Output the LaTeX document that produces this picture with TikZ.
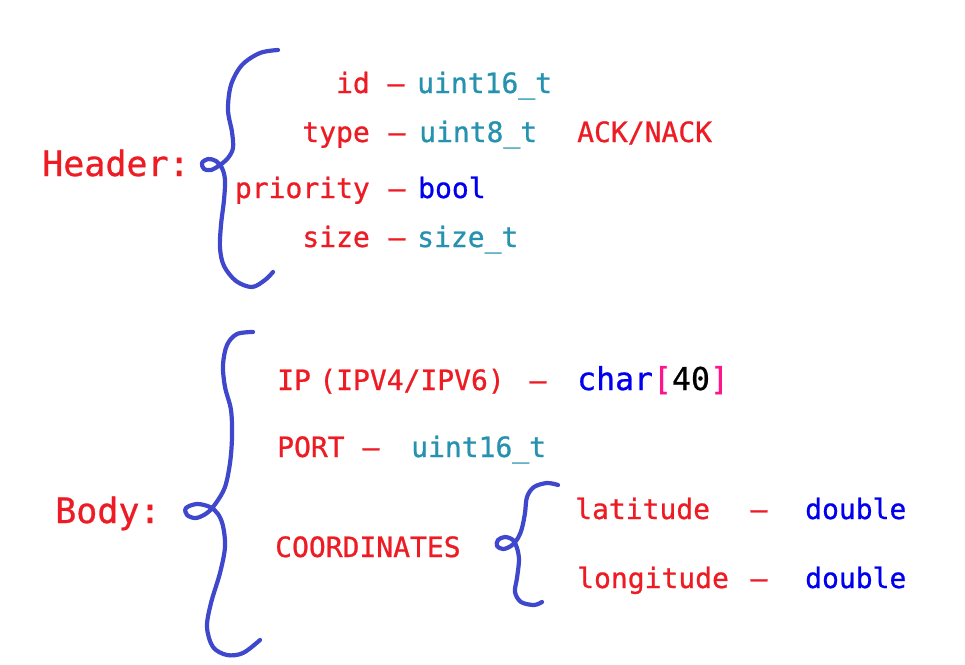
\documentclass[tikz,border=0pt]{standalone}
\usepackage{fontspec}
\setmonofont{DejaVu Sans Mono}[FakeBold=0.8]
\definecolor{fieldred}{RGB}{237,28,36}
\definecolor{typeteal}{RGB}{38,146,176}
\definecolor{typeblue}{RGB}{0,0,238}
\definecolor{bracketpink}{RGB}{255,20,140}
\definecolor{braceblue}{RGB}{63,72,204}
\usetikzlibrary{positioning}

\begin{document}
\begin{tikzpicture}[x=1pt, y=-1pt,
    txt/.style={inner sep=0pt, font=\ttfamily\fontsize{28}{32}\selectfont},
    big/.style={inner sep=0pt, font=\ttfamily\fontsize{35}{40}\selectfont, text=fieldred, anchor=base west},
    field/.style={txt, text=fieldred, anchor=base west},
    fieldr/.style={txt, text=fieldred, anchor=base east},
    sep/.style={txt, text=fieldred, anchor=base},
    tteal/.style={txt, text=typeteal, anchor=base west},
    tblue/.style={txt, text=typeblue, anchor=base west},
    brace/.style={draw=braceblue, line width=4.2pt, line cap=round, line join=round}]
    \useasboundingbox (0,0) rectangle (965,664);

    % Header
    \node[big] (hdr) at (42,176) {Header:};
    \node[fieldr] (id) at (370,93) {id};
    \node[sep] (idDash) at (396,93) {–};
    \node[tteal] (idType) at (417,93) {uint16\symbol{95}t};
    \node[fieldr] (type) at (370,142) {type};
    \node[sep] (typeDash) at (397,142) {–};
    \node[tteal] (typeType) at (419,142) {uint8\symbol{95}t};
    \node[field] (ack) at (577,142) {ACK/NACK};
    \node[fieldr] (prio) at (370,198) {priority};
    \node[sep] (prioDash) at (397,198) {–};
    \node[tblue] (prioType) at (418,198) {bool};
    \node[fieldr] (size) at (370,247) {size};
    \node[sep] (sizeDash) at (397,247) {–};
    \node[tteal] (sizeType) at (417,247) {size\symbol{95}t};

    % Header brace
    \draw[brace] plot[smooth, tension=0.55] coordinates {(278,50) (260,53) (242,65) (231,85) (228,110) (232,132) (233,148) (228,158) (220,165) (211,170) (204,169) (202,163) (208,159) (216,161) (222,168) (225,180) (224,200) (221,225) (220,248) (224,266) (236,281) (252,287) (265,280) (273,272)};

    % Body
    \node[big] (body) at (55,523) {Body:};
    \node[field] (ip) at (277,390) {IP\hspace{0.3em}(IPV4/IPV6)};
    \node[sep] (ipDash) at (538,390) {–};
    \node[txt, anchor=base west, font=\ttfamily\fontsize{31.5}{36}\selectfont] (ipType) at (577,390)
        {\color{typeblue}char\color{bracketpink}[\color{black}40\color{bracketpink}]};
    \node[field] (port) at (277,457) {PORT};
    \node[sep] (portDash) at (371,457) {–};
    \node[tteal] (portType) at (411,457) {uint16\symbol{95}t};
    \node[field] (coord) at (275,557) {COORDINATES};
    \node[field] (lat) at (575,519) {latitude};
    \node[sep] (latDash) at (759,519) {–};
    \node[tblue] (latType) at (805,519) {double};
    \node[field] (lon) at (577,588) {longitude};
    \node[sep] (lonDash) at (759,588) {–};
    \node[tblue] (lonType) at (805,588) {double};

    % Body brace
    \draw[brace] plot[smooth, tension=0.55] coordinates {(253,332) (237,334) (227,345) (223,365) (225,387) (231,410) (232,437) (230,463) (225,487) (216,503) (207,513) (196,518) (187,515) (186,508) (197,504) (210,507) (218,514) (223,526) (225,547) (220,573) (211,603) (207,627) (213,647) (227,655) (243,653) (260,640)};

    % Coordinates brace
    \draw[brace] plot[smooth, tension=0.55] coordinates {(558,485) (547,483) (534,487) (527,497) (525,513) (522,528) (518,538) (511,546) (503,549) (497,546) (498,540) (505,537) (513,540) (517,548) (519,560) (517,578) (515,592) (521,602) (534,605) (542,602)};
\end{tikzpicture}
\end{document}
